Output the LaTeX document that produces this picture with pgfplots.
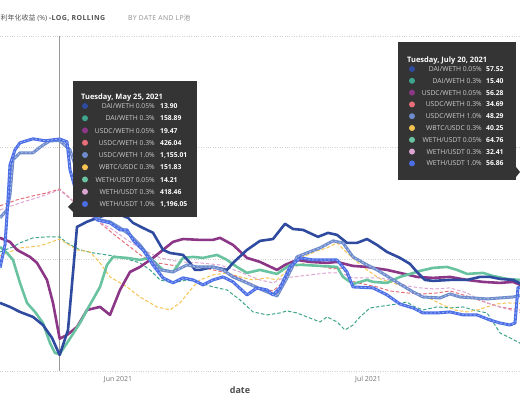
\documentclass[border=0pt]{standalone}
\usepackage{pgfplots}
\pgfplotsset{compat=1.18}
\usepackage{fontspec}
\setmainfont{Open Sans}
\newfontfamily\cjk{Noto Sans CJK SC}
\newfontfamily\titlefont[LetterSpace=6]{Open Sans}
\definecolor{cDAa}{RGB}{47,75,160}
\definecolor{cDAb}{RGB}{62,165,140}
\definecolor{cUSa}{RGB}{140,54,135}
\definecolor{cUSb}{RGB}{230,110,120}
\definecolor{cUSc}{RGB}{110,140,205}
\definecolor{cWB}{RGB}{245,195,80}
\definecolor{cWEa}{RGB}{105,195,160}
\definecolor{cWEb}{RGB}{220,165,210}
\definecolor{cWEc}{RGB}{75,110,230}
\definecolor{tipbg}{RGB}{52,52,52}
\definecolor{tiplab}{RGB}{205,205,205}
\pgfplotsset{
  dashedline/.style={line width=1bp, dash pattern=on 3.5bp off 2bp},
  thickline/.style={line width=2.6bp, line join=round},
  bluetex/.style={line width=3bp, line join=round, postaction={draw=white, draw opacity=0.45, line width=0.8bp, dash pattern=on 2bp off 2bp}},
}
\begin{document}
\begin{tikzpicture}
\useasboundingbox (0,0) rectangle (520bp,400bp);
\begin{axis}[
  at={(0bp,29bp)}, anchor=south west,
  scale only axis, width=520bp, height=335bp,
  xmin=-14.16, xmax=48.24,
  ymode=log, ymin=10, ymax=10000,
  axis line style={draw=none},
  ytick={10,100,1000,10000}, yticklabels={},
  minor ytick={}, yminorticks=false,
  ymajorgrids, grid style={black!18, dotted, line width=0.7pt},
  xtick={0,30}, xticklabels={Jun 2021, Jul 2021},
  major tick length=0pt, minor tick length=0pt,
  tick style={draw=none},
  xticklabel style={font=\fontsize{7}{8}\selectfont, text=black!55, anchor=base, yshift=-10.5bp},
  clip=true,
]
\draw[black!40, line width=0.8bp] (axis cs:-7,10) -- (axis cs:-7,10000);
% DAI/WETH 0.3% (teal dashed)
\addplot[cDAb, dashedline] coordinates {(-14.16,116.5) (-12.6,129.2) (-11.76,140.3) (-10.2,155.7) (-8.52,158.9) (-7,158.89) (-6.12,140.3) (-4.56,121.5) (-3.0,114.2) (-1.32,109.5) (0.24,105.1) (1.44,98.8) (2.64,92.9) (3.84,80.4) (5.04,65.4) (6.6,61.5) (8.28,65.4) (9.84,61.5) (11.4,56.6) (13.08,53.2) (14.64,43.3) (16.2,33.8) (17.88,31.8) (19.44,33.1) (20.28,34.5) (21.48,33.1) (22.68,30.5) (24.24,27.5) (25.08,30.5) (26.28,27.5) (27.24,23.3) (28.2,25.8) (29.04,30.5) (30.24,36.7) (31.8,38.2) (33.48,39.8) (34.68,41.5) (35.4,38.2) (36.6,35.2) (38.28,37.5) (39.84,36.7) (41.4,37.5) (42.6,35.2) (44.28,33.1) (45.0,27.5) (45.84,21.9) (47.04,19.8) (48.24,17.8) (48.96,15.4)};
% WBTC/USDC 0.3% (yellow dashed)
\addplot[cWB, dashedline] coordinates {(-14.16,107.3) (-11.76,126.6) (-9.36,131.9) (-7,151.83) (-4.92,121.5) (-3.36,116.5) (-2.16,92.9) (-0.96,69.6) (1.08,56.6) (2.64,46.0) (4.68,37.5) (6.24,35.2) (7.44,40.7) (9.0,56.6) (9.84,65.4) (11.4,72.5) (13.08,75.6) (14.64,69.6) (16.2,65.4) (17.88,68.2) (19.08,65.4) (20.64,83.8) (22.2,105.1) (23.88,119) (25.08,126.6) (26.28,140.3) (27.48,114.2) (28.68,94.8) (29.88,80.4) (31.44,66.8) (33.0,61.5) (34.68,55.5) (36.24,48.0) (37.8,43.3) (39.0,39.0) (40.44,35.2) (41.88,33.8) (43.08,35.2) (44.28,37.5) (45.48,39.8) (46.68,40.7) (48.96,40.25)};
% USDC/WETH 0.3% (salmon dashed)
\addplot[cUSb, dashedline] coordinates {(-14.16,301) (-12.12,341) (-10.2,370) (-8.52,394) (-7,426.04) (-5.4,334) (-3.72,277) (-2.16,212) (-0.12,158.9) (1.44,129.2) (3.0,105.1) (4.68,92.9) (6.24,89.1) (7.8,85.5) (8.64,89.1) (9.84,85.5) (11.4,80.4) (12.6,77.1) (13.8,72.5) (15.48,62.8) (17.04,55.5) (18.6,52.1) (19.44,59.0) (20.64,83.8) (22.2,91.0) (24.24,87.3) (25.8,82.1) (27.0,83.8) (27.84,64.1) (29.4,60.2) (31.08,56.6) (32.64,52.1) (34.68,50.0) (36.6,49.0) (38.28,50.0) (39.84,52.1) (41.04,49.0) (42.6,45.1) (44.28,40.7) (45.84,37.5) (47.4,35.9) (48.96,34.69)};
% WETH/USDT 0.3% (lavender dashed)
\addplot[cWEb, dashedline] coordinates {(-14.16,277) (-11.76,320) (-9.36,363) (-7,418.46) (-4.92,307.5) (-3.0,235) (-0.6,183.5) (1.08,149.3) (3.0,121.5) (5.04,103) (7.44,94.8) (9.84,92.9) (12.24,89.1) (14.64,77.1) (17.04,65.4) (18.6,61.5) (19.8,68.2) (21.0,69.6) (23.04,72.5) (25.08,75.6) (26.64,75.6) (28.2,68.2) (29.88,68.2) (31.44,68.2) (33.0,64.1) (34.68,57.8) (36.24,55.5) (38.04,54.3) (39.84,55.5) (41.88,50.0) (43.44,43.3) (45.0,39.0) (46.68,35.9) (48.96,32.41)};
% USDC/WETH 0.05% (purple)
\addplot[cUSa, thickline] coordinates {(-14.16,155.7) (-12.96,143.3) (-12.12,121.5) (-10.56,105.1) (-9.72,92.9) (-8.52,65.4) (-7.8,40.7) (-7,19.47) (-6.12,21.0) (-4.92,24.8) (-3.72,35.2) (-2.16,37.5) (-0.96,31.8) (0.24,53.2) (1.44,77.1) (2.64,85.5) (4.2,103) (5.4,121.5) (6.6,143.3) (7.8,152) (9.84,149.3) (11.4,149.3) (12.24,155.7) (13.8,134.6) (15.48,103) (17.04,94.8) (19.08,80.4) (20.04,89.1) (21.48,98.8) (23.04,94.8) (25.08,92.9) (26.28,94.8) (28.2,87.3) (29.88,85.5) (32.28,80.4) (33.84,75.6) (35.88,69.6) (37.8,68.2) (39.84,69.6) (41.88,65.4) (43.8,62.8) (45.84,61.5) (47.4,62.8) (48.96,56.28)};
% WETH/USDT 0.05% (green)
\addplot[cWEa, thickline] coordinates {(-14.16,129.2) (-13.32,114.2) (-12.6,98.8) (-11.76,61.5) (-10.92,40.7) (-9.96,33.8) (-9.0,26.9) (-8.16,17.8) (-7.56,14.5) (-7,14.21) (-6.12,17.8) (-4.56,26.9) (-3.72,35.2) (-2.16,56.6) (-1.32,89.1) (-0.6,105.1) (1.08,103) (2.64,98.8) (3.84,103) (5.4,80.4) (6.6,77.1) (7.8,103) (9.0,105.1) (10.2,103) (11.88,109.5) (13.08,98.8) (14.28,85.5) (15.48,75.6) (17.04,80.4) (19.08,74.0) (20.64,89.1) (22.2,89.1) (24.24,87.3) (26.28,85.5) (27.0,69.6) (28.2,60.2) (29.88,65.4) (30.6,62.8) (32.28,61.5) (33.84,69.6) (35.04,74.0) (36.24,78.8) (37.8,83.8) (39.48,85.5) (40.68,80.4) (41.88,74.0) (43.8,75.6) (45.0,71.0) (46.68,66.8) (48.96,64.76)};
% DAI/WETH 0.05% (dark blue)
\addplot[cDAa, thickline] coordinates {(-14.16,40.7) (-12.96,37.5) (-11.76,33.8) (-10.2,30.5) (-9.0,25.8) (-7.92,19.8) (-7,13.9) (-6.0,23.3) (-4.92,195) (-3.72,217) (-2.16,240) (-0.36,261) (1.2,235) (1.8,212) (3.0,191) (4.2,173) (5.4,121.5) (6.24,114) (7.8,109.5) (8.64,92.9) (9.24,80.4) (9.84,80.4) (11.4,85.5) (13.08,80.4) (13.8,92.9) (15.48,121.5) (17.04,146.3) (18.6,152) (20.04,208) (21.0,187) (22.2,183.5) (24.0,159) (25.2,172.6) (26.28,165.6) (27.48,140.3) (28.68,140.3) (29.88,152) (31.08,134.6) (32.28,116.5) (33.84,103) (35.04,91) (35.88,77.1) (36.84,65.4) (37.8,64.1) (39.84,65.4) (41.88,65.4) (43.44,69.6) (44.64,69.6) (45.84,66.8) (47.4,65.4) (48.96,57.52)};
% USDC/WETH 1.0% (slate blue)
\addplot[cUSc, bluetex] coordinates {(-14.16,235) (-13.32,277) (-12.96,378) (-12.6,778) (-11.76,900) (-10.2,900) (-9.12,1039) (-8.16,1152) (-7,1155.01) (-5.76,957) (-4.56,515) (-3.36,307.5) (-2.16,225.6) (-0.96,216.5) (0.24,191.3) (1.44,165.6) (2.64,134.6) (3.84,103) (5.04,80.4) (6.6,77.1) (8.28,89.1) (9.48,85.5) (11.4,85.5) (12.6,80.4) (13.8,69.6) (15.48,61.5) (17.04,54.3) (19.08,47.0) (20.28,68.2) (21.48,105.1) (22.68,114.2) (24.24,126.6) (25.8,146.3) (27.0,140.3) (28.2,105.1) (29.88,89.1) (31.08,80.4) (32.64,68.2) (34.2,57.8) (35.4,51.1) (36.6,46.0) (38.64,45.1) (39.84,49.0) (41.04,46.0) (42.6,45.1) (44.28,44.2) (45.84,45.1) (47.4,46.0) (48.96,48.29)};
% WETH/USDT 1.0% (bright blue)
\addplot[cWEc, bluetex] coordinates {(-14.16,83.8) (-13.56,134.6) (-13.2,341) (-12.96,702) (-12.36,957) (-11.76,1105) (-10.2,1200) (-8.76,1152) (-7,1196.05) (-6.12,1128) (-5.76,633) (-5.16,437) (-3.72,307.5) (-2.52,225.6) (-0.96,212) (0.24,183.5) (1.08,183.5) (1.8,149.3) (3.0,121.5) (4.2,89.1) (5.4,68.2) (6.6,61.5) (7.8,68.2) (9.0,65.4) (10.2,59.0) (11.4,65.4) (12.6,69.6) (13.8,62.8) (15.48,48.0) (16.68,55.5) (17.88,53.2) (18.6,48.0) (19.44,55.5) (20.64,85.5) (21.84,103) (23.4,98.8) (25.08,98.8) (26.28,98.8) (27.48,77.1) (28.2,56.6) (30.6,55.5) (32.28,48.0) (33.84,39.8) (35.4,36.7) (36.6,33.1) (38.28,33.1) (39.84,33.8) (41.4,31.8) (43.08,31.8) (44.64,28.6) (45.84,26.9) (47.04,25.8) (47.64,26.9) (48.0,56.0) (48.96,56.86)};
\end{axis}
\begin{scope}[x=1bp,y=1bp]
% axis title
\node[anchor=base, text=black!70, font=\fontsize{9}{10}\selectfont\bfseries] at (240,7) {date};
% chart title (its start is cut by the left edge, as in the reference)
\node[anchor=base west, inner sep=0pt, text=black!68, font=\fontsize{7}{8}\selectfont] at (-6.5,380) {{\cjk 复利年化收益} (\%) {\titlefont\bfseries -LOG, ROLLING}};
\node[anchor=base west, inner sep=0pt, text=black!45, font=\fontsize{6.8}{8}\selectfont] at (128,380) {{\titlefont BY DATE AND LP}{\cjk 池}};
% tooltip 1
\fill[tipbg] (73,183) rectangle (197,319);
\fill[tipbg] (73,198) -- (68,193) -- (73,188) -- cycle;
\node[anchor=base west, inner sep=0pt, text=white, font=\fontsize{7.5}{8}\selectfont\bfseries] at (81,301) {Tuesday, May 25, 2021};
\foreach \i/\c/\lab/\val in {0/cDAa/DAI\slash WETH 0.05\%/13.90, 1/cDAb/DAI\slash WETH 0.3\%/158.89, 2/cUSa/USDC\slash WETH 0.05\%/19.47, 3/cUSb/USDC\slash WETH 0.3\%/426.04, 4/cUSc/USDC\slash WETH 1.0\%/{1,155.01}, 5/cWB/WBTC\slash USDC 0.3\%/151.83, 6/cWEa/WETH\slash USDT 0.05\%/14.21, 7/cWEb/WETH\slash USDT 0.3\%/418.46, 8/cWEc/WETH\slash USDT 1.0\%/{1,196.05}} {
  \fill[\c] (85,{294-12.25*\i}) circle (3);
  \node[anchor=base east, inner sep=0pt, text=tiplab, font=\fontsize{6.8}{7}\selectfont] at (155,{291.5-12.25*\i}) {\lab};
  \node[anchor=base west, inner sep=0pt, text=white, font=\fontsize{6.8}{7}\selectfont\bfseries] at (160,{291.5-12.25*\i}) {\val};
}
% tooltip 2
\fill[tipbg] (398,220) rectangle (516,358);
\fill[tipbg] (516,233) -- (520,228) -- (516,223) -- cycle;
\node[anchor=base west, inner sep=0pt, text=white, font=\fontsize{7.5}{8}\selectfont\bfseries] at (407,338) {Tuesday, July 20, 2021};
\foreach \i/\c/\lab/\val in {0/cDAa/DAI\slash WETH 0.05\%/57.52, 1/cDAb/DAI\slash WETH 0.3\%/15.40, 2/cUSa/USDC\slash WETH 0.05\%/56.28, 3/cUSb/USDC\slash WETH 0.3\%/34.69, 4/cUSc/USDC\slash WETH 1.0\%/48.29, 5/cWB/WBTC\slash USDC 0.3\%/40.25, 6/cWEa/WETH\slash USDT 0.05\%/64.76, 7/cWEb/WETH\slash USDT 0.3\%/32.41, 8/cWEc/WETH\slash USDT 1.0\%/56.86} {
  \fill[\c] (412,{331-11.8*\i}) circle (3);
  \node[anchor=base east, inner sep=0pt, text=tiplab, font=\fontsize{6.8}{7}\selectfont] at (482,{328.5-11.8*\i}) {\lab};
  \node[anchor=base west, inner sep=0pt, text=white, font=\fontsize{6.8}{7}\selectfont\bfseries] at (486,{328.5-11.8*\i}) {\val};
}
\end{scope}
\end{tikzpicture}
\end{document}
